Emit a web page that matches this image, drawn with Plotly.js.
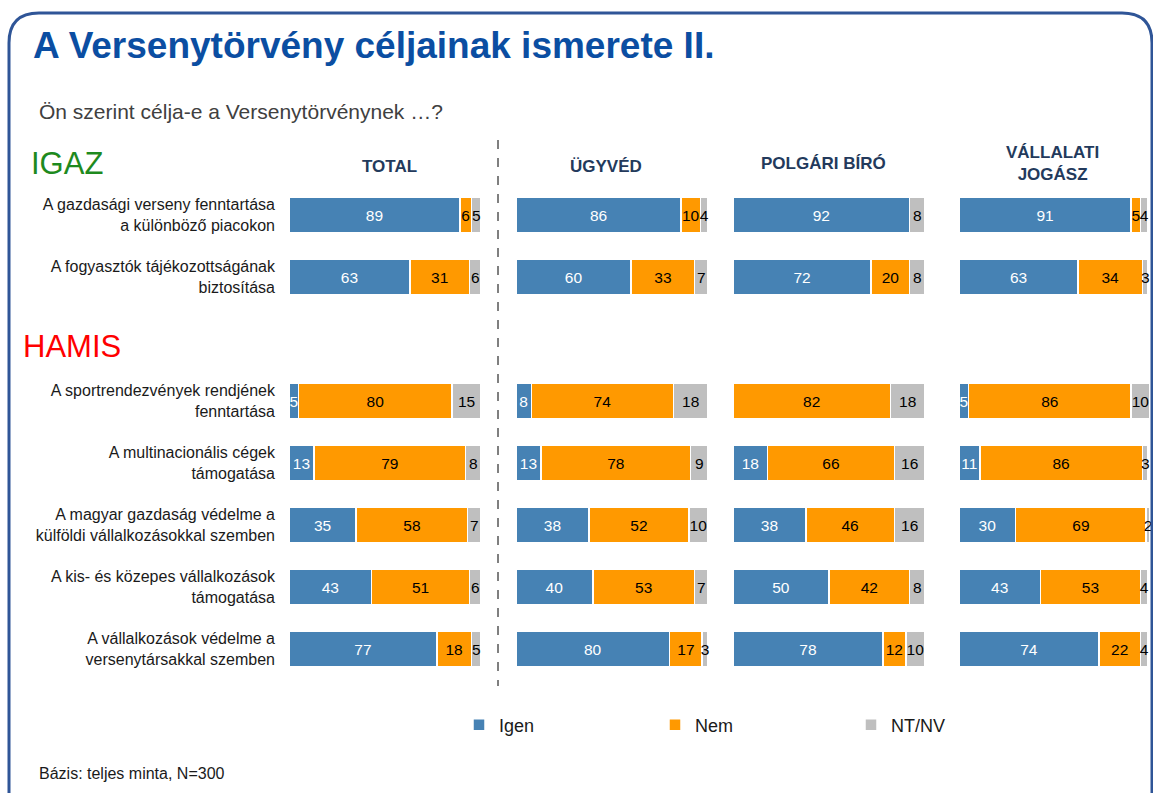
<!DOCTYPE html>
<html>
<head>
<meta charset="utf-8">
<script src="https://cdn.plot.ly/plotly-3.0.1.min.js"></script>
<style>html,body{margin:0;padding:0;background:#fff;overflow:hidden;}#chart{width:1153px;height:793px;}</style>
</head>
<body>
<div id="chart"></div>
<script>
// ---------- DATA ----------
const categories = [
  "A gazdasági verseny fenntartása<br>a különböző piacokon",
  "A fogyasztók tájékozottságának<br>biztosítása",
  "A sportrendezvények rendjének<br>fenntartása",
  "A multinacionális cégek<br>támogatása",
  "A magyar gazdaság védelme a<br>külföldi vállalkozásokkal szemben",
  "A kis- és közepes vállalkozások<br>támogatása",
  "A vállalkozások védelme a<br>versenytársakkal szemben"
];
const groups = ["TOTAL", "ÜGYVÉD", "POLGÁRI BÍRÓ", "VÁLLALATI<br>JOGÁSZ"];
const seriesNames = ["Igen", "Nem", "NT/NV"];

const totalIgen = [89, 63, 5, 13, 35, 43, 77];
const totalNem  = [6, 31, 80, 79, 58, 51, 18];
const totalNt   = [5, 6, 15, 8, 7, 6, 5];

const ugyvedIgen = [86, 60, 8, 13, 38, 40, 80];
const ugyvedNem  = [10, 33, 74, 78, 52, 53, 17];
const ugyvedNt   = [4, 7, 18, 9, 10, 7, 3];

const biroIgen = [92, 72, 0, 18, 38, 50, 78];
const biroNem  = [0, 20, 82, 66, 46, 42, 12];
const biroNt   = [8, 8, 18, 16, 16, 8, 10];

const jogaszIgen = [91, 63, 5, 11, 30, 43, 74];
const jogaszNem  = [5, 34, 86, 86, 69, 53, 22];
const jogaszNt   = [4, 3, 10, 3, 2, 4, 4];

const sectionIgaz = "IGAZ";
const sectionHamis = "HAMIS";
const chartTitle = "A Versenytörvény céljainak ismerete II.";
const subtitle = "Ön szerint célja-e a Versenytörvénynek …?";
const footer = "Bázis: teljes minta, N=300";

// ---------- LAYOUT / BUILD ----------
const W = 1153, H = 793;
const px = x => x / W;
const py = y => 1 - y / H;

const panelData = [
  [totalIgen, totalNem, totalNt],
  [ugyvedIgen, ugyvedNem, ugyvedNt],
  [biroIgen, biroNem, biroNt],
  [jogaszIgen, jogaszNem, jogaszNt]
];
const colors = ["#4682B4", "#FF9900", "#BFBFBF"];
const textColors = ["#ffffff", "#000000", "#000000"];
const panelPx = [[289, 481], [516, 708], [733, 925], [959, 1150]];
const headerX = [389, 606, 823, 1052];
const headerY = [166, 166, 163, 163];

// rows: first two IGAZ, then an empty slot, then HAMIS
const rowPos = categories.map((c, i) => i < 2 ? i : i + 1);

const traces = [];
panelData.forEach((pd, p) => {
  pd.forEach((vals, s) => {
    traces.push({
      type: "bar",
      orientation: "h",
      name: seriesNames[s],
      x: vals,
      y: rowPos,
      xaxis: p === 0 ? "x" : "x" + (p + 1),
      yaxis: "y",
      marker: { color: colors[s], line: { color: "#ffffff", width: 1.5 } },
      text: vals.map(v => v > 0 ? String(v) : ""),
      textposition: "inside",
      insidetextanchor: "middle",
      textangle: 0,
      insidetextfont: { color: textColors[s], size: 15.5, family: "Liberation Sans, Arial, sans-serif" },
      cliponaxis: false,
      showlegend: p === 0,
      legendgroup: seriesNames[s],
      hoverinfo: "skip"
    });
  });
});

const layout = {
  width: W, height: H,
  autosize: false,
  margin: { l: 0, r: 0, t: 0, b: 0, autoexpand: false },
  paper_bgcolor: "#ffffff",
  plot_bgcolor: "rgba(0,0,0,0)",
  barmode: "stack",
  bargap: 0.43,
  font: { family: "Liberation Sans, Arial, sans-serif", color: "#1a1a1a" },
  uniformtext: { mode: "show", minsize: 15.5 },
  title: {
    text: "<b>" + chartTitle + "</b>",
    x: px(33), xanchor: "left", xref: "paper",
    y: py(45), yanchor: "middle", yref: "paper",
    font: { family: "Liberation Sans, Arial, sans-serif", size: 37, color: "#0B4EA2" }
  },
  yaxis: {
    domain: [py(680), py(184)],
    range: [7.5, -0.5],
    tickmode: "array",
    tickvals: rowPos,
    ticktext: categories,
    showgrid: false, zeroline: false, showline: false, ticks: "",
    ticklabelstandoff: 13,
    tickfont: { size: 16, color: "#1a1a1a" },
    fixedrange: true
  },
  legend: {
    orientation: "h",
    x: px(459), xanchor: "left",
    y: py(725), yanchor: "middle",
    bgcolor: "rgba(0,0,0,0)",
    font: { size: 18, color: "#1a1a1a" },
    entrywidth: 151, entrywidthmode: "pixels",
    traceorder: "normal",
    itemclick: false, itemdoubleclick: false
  },
  annotations: [],
  shapes: []
};

panelData.forEach((pd, p) => {
  const key = p === 0 ? "xaxis" : "xaxis" + (p + 1);
  // axis range covers the largest row total (some rows sum to 101)
  const maxSum = Math.max(100, ...pd[0].map((v, i) => v + pd[1][i] + pd[2][i]));
  layout[key] = {
    domain: [px(panelPx[p][0]), px(panelPx[p][1])],
    range: [0, maxSum],
    anchor: "y",
    visible: false,
    fixedrange: true
  };
  layout.annotations.push({
    text: "<b>" + groups[p] + "</b>",
    xref: "paper", yref: "paper",
    x: px(headerX[p]), y: py(headerY[p]),
    xanchor: "center", yanchor: "middle",
    showarrow: false,
    font: { size: 17, color: "#233A5C" }
  });
});

layout.annotations.push(
  { text: subtitle, xref: "paper", yref: "paper", x: px(37), y: py(112), xanchor: "left", yanchor: "middle",
    showarrow: false, font: { size: 21, color: "#404040" } },
  { text: sectionIgaz, xref: "paper", yref: "paper", x: px(29), y: py(163), xanchor: "left", yanchor: "middle",
    showarrow: false, font: { size: 31, color: "#1E8A1E" } },
  { text: sectionHamis, xref: "paper", yref: "paper", x: px(21), y: py(346), xanchor: "left", yanchor: "middle",
    showarrow: false, font: { size: 31, color: "#FF0000" } },
  { text: footer, xref: "paper", yref: "paper", x: px(37), y: py(773), xanchor: "left", yanchor: "middle",
    showarrow: false, font: { size: 16, color: "#1a1a1a" } }
);

// dashed divider
layout.shapes.push({
  type: "line", xref: "paper", yref: "paper",
  x0: px(498), x1: px(498), y0: py(140), y1: py(686),
  line: { color: "#000000", width: 1, dash: "dash" }
});

// rounded border frame
(function () {
  const x0 = px(9), x1 = px(1152), yt = py(13), yb = py(800);
  const rx = px(30), ry = 30 / H;
  const path = `M ${x0},${yb} L ${x0},${yt - ry} Q ${x0},${yt} ${x0 + rx},${yt} L ${x1 - rx},${yt} Q ${x1},${yt} ${x1},${yt - ry} L ${x1},${yb}`;
  layout.shapes.push({
    type: "path", xref: "paper", yref: "paper", path: path,
    line: { color: "#2F5597", width: 3 }
  });
})();

Plotly.newPlot("chart", traces, layout, { displayModeBar: false });
</script>
</body>
</html>
